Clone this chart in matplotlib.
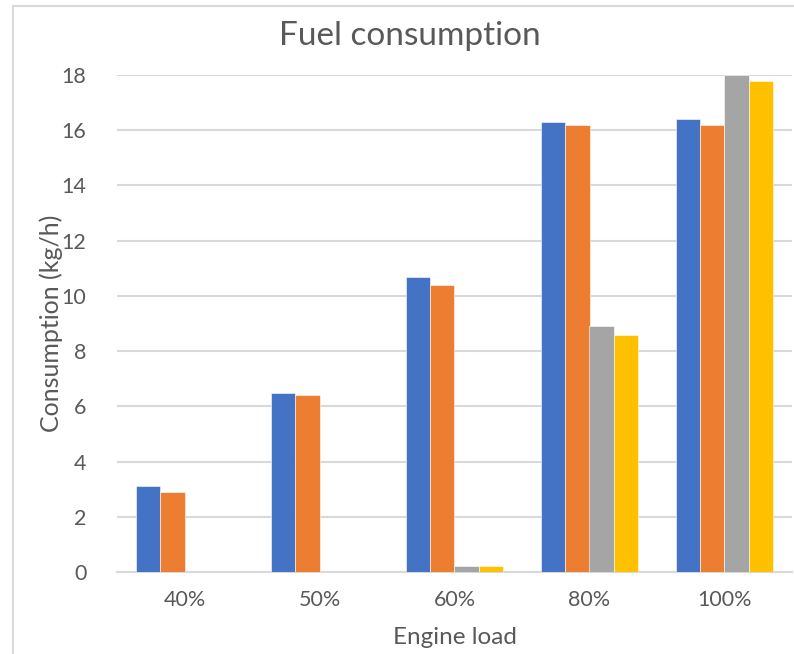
import numpy as np
import matplotlib
matplotlib.use('Agg')
import matplotlib.pyplot as plt
from matplotlib.lines import Line2D

# fuel consumption per engine load, four runs
loads = ['40%', '50%', '60%', '80%', '100%']
series_1 = [3.1, 6.5, 10.7, 16.3, 16.4]
series_2 = [2.9, 6.4, 10.4, 16.2, 16.2]
series_3 = [0.0, 0.0, 0.2, 8.9, 18.0]
series_4 = [0.0, 0.0, 0.2, 8.6, 17.8]
yticks = [0, 2, 4, 6, 8, 10, 12, 14, 16, 18]

colors = ['#4472C4', '#ED7D31', '#A5A5A5', '#FFC000']
text_col = '#595959'
grid_col = '#D9D9D9'

plt.rcParams['font.family'] = ['Lato', 'DejaVu Sans']

fig = plt.figure(figsize=(7.94, 6.54), dpi=100)
ax = fig.add_axes([117 / 794, 82 / 654, 675 / 794, 497 / 654])

x = np.arange(len(loads))
width = 0.18
all_series = [series_1, series_2, series_3, series_4]
for i, (vals, c) in enumerate(zip(all_series, colors)):
    ax.bar(x + (i - 1.5) * width, vals, width, color=c,
           edgecolor='white', linewidth=0.4, zorder=3)

ax.set_xlim(-0.5, len(loads) - 0.5)
ax.set_ylim(0, 18)
ax.set_yticks(yticks)
ax.set_xticks(x)
ax.set_xticklabels(loads)
ax.tick_params(axis='both', length=0, labelsize=15.5, colors=text_col)
ax.tick_params(axis='x', pad=13)
ax.tick_params(axis='y', pad=22)
ax.grid(axis='y', color=grid_col, linewidth=1.5, zorder=0)
for s in ['top', 'right', 'left']:
    ax.spines[s].set_visible(False)
ax.spines['bottom'].set_color(grid_col)
ax.spines['bottom'].set_linewidth(1.5)

ax.set_xlabel('Engine load', fontsize=17.5, color=text_col, labelpad=12)
ax.set_ylabel('Consumption (kg/h)', fontsize=18, color=text_col, labelpad=-1)
fig.text(410 / 794, 1 - 36 / 654, 'Fuel consumption', fontsize=24,
         color=text_col, ha='center', va='center')

# chart frame (left and top edges)
fig.add_artist(Line2D([13 / 794, 13 / 794], [0, 1 - 6 / 654],
                      color=grid_col, linewidth=1.5))
fig.add_artist(Line2D([13 / 794, 1], [1 - 6 / 654, 1 - 6 / 654],
                      color=grid_col, linewidth=1.5))

fig.savefig('out.png', dpi=100)
